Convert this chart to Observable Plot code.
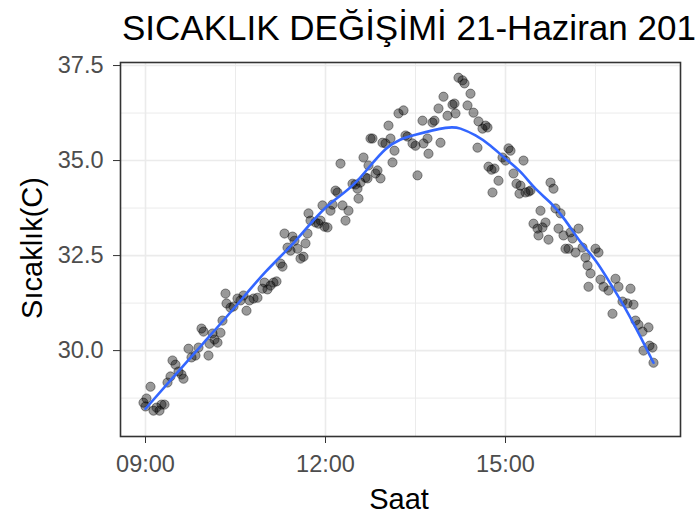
<!DOCTYPE html>
<html>
<head>
<meta charset="utf-8">
<script src="https://cdn.jsdelivr.net/npm/d3@7"></script>
<script src="https://cdn.jsdelivr.net/npm/@observablehq/plot@0.6"></script>
<style>
  html, body { margin: 0; padding: 0; background: #fff; overflow: hidden; }
  #wrap { position: relative; width: 698px; height: 516px; font-family: "Liberation Sans", Arial, sans-serif; }
  #title { position: absolute; left: 122px; top: 10px; font-size: 35px; line-height: 35px; color: #000; white-space: nowrap; }
  #xlab { position: absolute; left: 120px; width: 558px; top: 485px; text-align: center; font-size: 29px; line-height: 29px; color: #000; }
  #ylab { position: absolute; left: 32px; top: 248px; font-size: 29px; line-height: 29px; color: #000; white-space: nowrap;
          transform: translate(-50%, -50%) rotate(-90deg); }
  #chart { position: absolute; left: 0; top: 0; }
</style>
</head>
<body>
<div id="wrap">
  <div id="chart"></div>
  <div id="title">SICAKLIK DEĞİŞİMİ 21-Haziran 201</div>
  <div id="xlab">Saat</div>
  <div id="ylab">Sıcaklık(C)</div>
</div>
<script>
// Observed readings (time of day, temperature °C)
const saat = [
  "08:58","09:01","09:00","09:05","09:08","09:11","09:14","09:16","09:19","09:22",
  "09:25","09:27","09:30","09:33","09:36","09:38","09:43","09:46","09:50","09:53",
  "09:56","09:58","10:03","10:04","10:07","10:09","10:12","10:15","10:17","10:20",
  "10:21","10:25","10:28","10:32","10:35","10:38","10:41","10:44","10:48","10:52",
  "10:57","10:59","11:02","11:05","11:08","11:11","11:15","11:17","11:19","11:22",
  "11:25","11:27","11:29","11:32","11:35","11:38",
  "11:40","11:42","11:43","11:45","11:50","11:53","11:55","11:57","11:59","12:02",
  "12:05","12:07","12:10","12:12","12:15","12:17","12:20","12:23",
  "12:27","12:30","12:32","12:33","12:35","12:38","12:40","12:42","12:43","12:45",
  "12:47","12:50","12:52","12:55","12:57","13:00","13:03","13:05","13:07","13:09",
  "13:13","13:18",
  "13:20","13:22","13:27","13:30","13:32","13:37","13:38","13:42","13:43","13:47",
  "13:49","13:53","13:55","13:58","14:02","14:07","14:09","14:10","14:13","14:17","14:19",
  "14:22","14:25","14:28","14:32","14:33","14:37","14:40","14:42","14:43","14:46",
  "14:47","14:49","14:53","14:57","15:00","15:03","15:05","15:08","15:11","15:14",
  "15:15","15:18","15:20","15:23","15:25","15:28","15:32","15:33","15:35","15:37",
  "15:40","15:43","15:45","15:48","15:50","15:53","15:55",
  "15:58","16:00","16:03","16:05","16:07","16:10","16:13","16:17","16:20","16:22",
  "16:23","16:25","16:30","16:33","16:35","16:38","16:43",
  "16:47","16:50","16:53","16:57","17:02","17:05","17:08","17:10","17:13","17:17",
  "17:18","17:23","17:24","17:27","17:28"
];
const sicaklik = [
  28.63,28.74,28.53,29.05,28.42,28.50,28.42,28.58,28.58,29.16,
  29.32,29.74,29.63,29.45,29.37,29.26,30.05,29.82,29.87,30.08,
  30.58,30.50,29.87,30.18,30.45,30.29,30.21,30.47,30.79,31.50,
  31.24,31.13,31.16,31.37,31.32,31.45,31.05,31.32,31.37,31.39,
  31.63,31.79,31.61,31.71,31.79,31.82,32.29,32.21,33.08,32.71,
  32.63,33.00,32.89,32.68,32.42,32.47,
  32.82,33.08,33.61,33.42,33.37,33.34,33.42,33.82,33.26,33.24,
  33.68,33.84,34.21,34.16,34.92,33.82,33.42,33.68,
  34.39,34.37,34.26,34.00,34.42,35.08,34.55,34.53,34.87,35.58,
  35.58,34.66,34.74,34.53,35.47,35.45,35.92,35.58,34.95,35.26,
  36.24,36.32,
  35.66,35.63,35.45,35.39,34.61,36.05,35.45,35.58,35.18,36.00,
  36.05,36.37,35.47,36.68,36.18,36.47,36.50,36.24,37.18,37.11,37.03,
  36.45,36.76,36.26,35.34,36.03,35.84,35.92,35.87,34.84,34.76,
  34.16,34.79,34.47,35.08,35.00,35.32,35.26,34.66,34.39,34.13,
  34.34,35.00,34.16,34.18,34.21,33.34,33.21,33.03,33.68,33.24,
  33.37,32.92,34.42,34.26,33.74,33.21,33.61,
  33.03,32.68,32.68,33.11,32.95,32.58,33.21,32.71,32.45,32.24,
  31.68,32.03,32.68,32.58,31.87,31.68,31.58,
  30.97,31.89,31.68,31.29,31.24,31.63,31.21,30.79,30.68,30.50,
  30.00,30.61,30.13,30.08,29.68
];

// Smoothed trend (loess)
const trendSaat = ["09:00","09:30","10:00","10:30","11:00","11:30","12:00","12:30","13:00","13:30",
                   "14:00","14:15","14:30","14:45","15:00","15:15","15:30","15:45","16:00","16:15",
                   "16:30","16:45","17:00","17:15","17:28"];
const trendSicaklik = [28.47,29.37,30.26,31.16,32.07,32.89,33.76,34.42,35.30,35.68,
                       35.86,35.84,35.66,35.39,35.05,34.70,34.26,33.89,33.42,32.86,
                       32.37,31.76,31.10,30.36,29.68];

const xTicks = [9, 12, 15];
const xMinor = [10.5, 13.5, 16.5];
const yTicks = [30, 32.5, 35, 37.5];
const yMinor = [28.75, 31.25, 33.75, 36.25];

const toHour = s => { const [h, m] = s.split(":").map(Number); return h + m / 60; };
const points = saat.map((s, i) => ({x: toHour(s), y: sicaklik[i]}));
const trend = trendSaat.map((s, i) => ({x: toHour(s), y: trendSicaklik[i]}));
const fmtHour = h => String(Math.floor(h)).padStart(2, "0") + ":" + String(Math.round((h % 1) * 60)).padStart(2, "0");

const grid = "#EBEBEB";
const chart = Plot.plot({
  width: 698,
  height: 516,
  marginLeft: 120,
  marginRight: 18,
  marginTop: 62,
  marginBottom: 80,
  style: {fontFamily: "'Liberation Sans', Arial, sans-serif", fontSize: "23.5px", background: "white"},
  x: {domain: [8 + 35/60, 17 + 55/60]},
  y: {domain: [27.74, 37.58]},
  marks: [
    Plot.ruleX(xMinor, {stroke: grid, strokeWidth: 1}),
    Plot.ruleY(yMinor, {stroke: grid, strokeWidth: 1}),
    Plot.ruleX(xTicks, {stroke: grid, strokeWidth: 1.6}),
    Plot.ruleY(yTicks, {stroke: grid, strokeWidth: 1.6}),
    Plot.dot(points, {x: "x", y: "y", r: 4.6, fill: "black", fillOpacity: 0.4,
                      stroke: "black", strokeOpacity: 0.4, strokeWidth: 1}),
    Plot.line(trend, {x: "x", y: "y", stroke: "#3366FF", strokeWidth: 2.6, curve: "natural"}),
    Plot.frame({stroke: "#333333", strokeWidth: 1.6}),
    Plot.axisX(xTicks, {tickFormat: fmtHour, tickSize: 7, tickPadding: 12, stroke: "#333333",
                        fill: "#4D4D4D", label: null, fontSize: 23.5}),
    Plot.axisY(yTicks, {tickFormat: d => d.toFixed(1), tickSize: 7, tickPadding: 10, stroke: "#333333",
                        fill: "#4D4D4D", label: null, fontSize: 23.5})
  ]
});
document.getElementById("chart").appendChild(chart);
</script>
</body>
</html>
